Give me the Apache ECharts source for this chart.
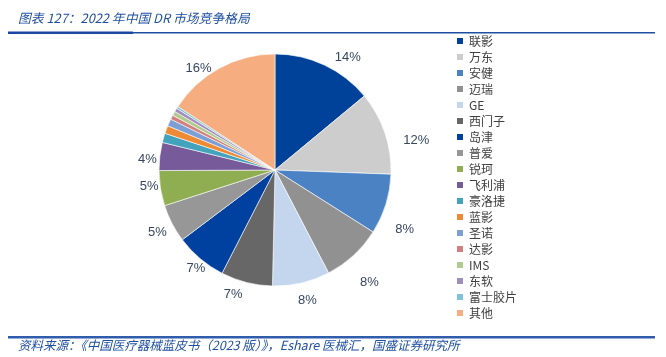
<!DOCTYPE html>
<html><head><meta charset="utf-8">
<script src="https://cdn.jsdelivr.net/npm/echarts@6/dist/echarts.min.js"></script>
<style>html,body{margin:0;padding:0;background:#fff}#c{width:666px;height:357px}</style>
</head><body><div id="c"></div>
<script>
const titleText = '图表 127：2022 年中国 DR 市场竞争格局';
const sourceText = '资料来源：《中国医疗器械蓝皮书（2023 版）》，Eshare 医械汇，国盛证券研究所';
const companies = ['联影','万东','安健','迈瑞','GE','西门子','岛津','普爱','锐珂','飞利浦','豪洛捷','蓝影','圣诺','达影','IMS','东软','富士胶片','其他'];
const shares = [14.0, 11.6, 8.4, 8.4, 8.0, 7.2, 7.2, 5.3, 4.9, 3.9, 1.3, 1.1, 1.0, 0.6, 0.6, 0.5, 0.3, 15.8];
const colors = ['#00429a','#cdcdcd','#4a82c4','#919191','#c4d6ee','#676767','#0041a0','#979797','#8fae52','#775a9a','#43a2bc','#ef8a34','#7c9fd5','#d37f7f','#b0cb8d','#a18dbb','#7ec3d8','#f6ad7f'];

// label nudges (style only), in px
const labelNudge = {'联影':[16,8],'万东':[15,13],'安健':[2,20],'迈瑞':[4,14],'GE':[2,0],'西门子':[-9,-5],'岛津':[7,-4],'普爱':[1,1],'锐珂':[6,-5],'飞利浦':[5,5],'其他':[-13,16]};

const chart = echarts.init(document.getElementById('c'), null, {renderer:'canvas'});
const pieData = companies.map((n,i)=>({name:n, value:shares[i], itemStyle:{color:colors[i]}}));
const labelData = companies.map((n,i)=>({name:n, value:shares[i], label:{offset:labelNudge[n]||[0,0]}}));
const font = 'Liberation Sans, Arial, sans-serif';
chart.setOption({
  animation:false,
  legend:{
    orient:'vertical', left:450, top:30,
    itemWidth:8, itemHeight:8, itemGap:4, icon:'rect',
    textStyle:{fontSize:12, color:'#404040', fontFamily:'Noto Sans CJK SC', lineHeight:12},
    data:companies
  },
  series:[
    {type:'pie', center:[275,170], radius:[0,116], startAngle:90, clockwise:true,
     silent:true, label:{show:false}, labelLine:{show:false},
     itemStyle:{borderColor:'#ffffff', borderWidth:0.6},
     data:pieData},
    {type:'pie', center:[275,170], radius:[116,145], startAngle:90, clockwise:true,
     silent:true, legendHoverLink:false,
     itemStyle:{color:'rgba(0,0,0,0)'},
     label:{show:true, position:'inside', fontSize:13, color:'#37465f', fontFamily:font,
       formatter:p=> p.value>=2 ? Math.round(p.value)+'%' : ''},
     labelLine:{show:false},
     data:labelData}
  ],
  graphic:[
    {type:'text', left:18, top:12, style:{text:titleText, fontSize:12.8, fontStyle:'italic', fill:'#1f4fa0', fontFamily:'Noto Sans CJK SC'}},
    {type:'rect', shape:{x:8, y:32, width:647, height:1.5}, style:{fill:'#1f4fa0'}},
    {type:'rect', shape:{x:8, y:31.5, width:125, height:2.5}, style:{fill:'#1a47a0'}},
    {type:'rect', shape:{x:8, y:336, width:647, height:2.5}, style:{fill:'#2f5cab'}},
    {type:'text', left:18, top:339, style:{text:sourceText, fontSize:12.5, fontStyle:'italic', fill:'#1f4fa0', fontFamily:'Noto Sans CJK SC'}}
  ]
});
</script></body></html>
